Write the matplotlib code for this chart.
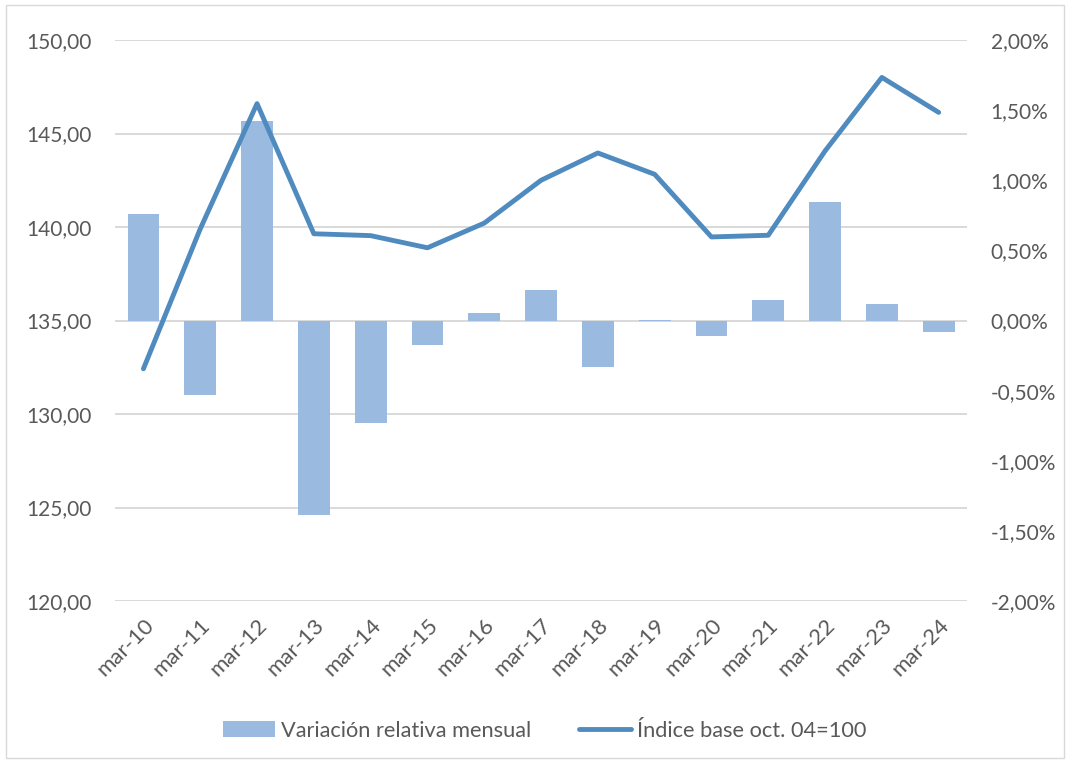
import matplotlib.pyplot as plt
from matplotlib.ticker import FuncFormatter, MultipleLocator
from matplotlib.patches import Rectangle

plt.rcParams['font.family'] = ['Lato', 'DejaVu Sans']

# data
labels = ['mar-10', 'mar-11', 'mar-12', 'mar-13', 'mar-14', 'mar-15', 'mar-16', 'mar-17',
          'mar-18', 'mar-19', 'mar-20', 'mar-21', 'mar-22', 'mar-23', 'mar-24']
variacion = [0.762, -0.531, 1.426, -1.39, -0.733, -0.176, 0.057, 0.219,
             -0.333, 0.005, -0.11, 0.145, 0.845, 0.121, -0.083]  # percent
indice = [132.42, 139.9, 146.6, 139.64, 139.54, 138.89, 140.21, 142.5,
          143.96, 142.82, 139.47, 139.56, 144.07, 148.0, 146.13]
left_ticks = [120, 125, 130, 135, 140, 145, 150]

text_col = '#595959'
bar_col = '#9bbae0'
line_col = '#4f8bbf'

fig = plt.figure(figsize=(10.68, 7.61), dpi=100)
ax = fig.add_axes([0.1077, 0.2102, 0.7978, 0.7372])
ax2 = ax.twinx()

x = list(range(len(labels)))

# gridlines follow the left axis ticks, drawn under the bars
for t in left_ticks:
    ax2.axhline((t - 135) / 30 * 0.04, color='#d9d9d9', lw=1.4, zorder=0)

# bars on the right (percent) axis
bars = ax2.bar(x, [v / 100 for v in variacion], width=0.56, color=bar_col,
               label='Variación relativa mensual', zorder=2)
ax2.set_ylim(-0.02, 0.02)
ax2.yaxis.set_major_locator(MultipleLocator(0.005))
ax2.yaxis.set_major_formatter(FuncFormatter(
    lambda v, p: f'{v * 100:.2f}%'.replace('.', ',')))

# line on the left (index) axis, drawn on top
line, = ax.plot(x, indice, color=line_col, lw=3.5, solid_capstyle='round',
                label='Índice base oct. 04=100')
ax.set_zorder(ax2.get_zorder() + 1)
ax.patch.set_visible(False)
ax.set_ylim(120, 150)
ax.set_yticks(left_ticks)
ax.yaxis.set_major_formatter(FuncFormatter(
    lambda v, p: f'{v:.2f}'.replace('.', ',')))
ax.set_xlim(-0.5, len(labels) - 0.5)
ax.set_xticks(x)
ax.set_xticklabels(labels, rotation=45, ha='right', rotation_mode='anchor')

for a in (ax, ax2):
    for s in a.spines.values():
        s.set_visible(False)
    a.tick_params(length=0, labelsize=15, colors=text_col)
ax.tick_params(axis='y', pad=17)
ax2.tick_params(axis='y', pad=17)
ax.tick_params(axis='x', labelsize=16, pad=10)

fig.legend(handles=[bars, line], loc='center', bbox_to_anchor=(0.51, 0.04),
           ncol=2, frameon=False, fontsize=15.7, labelcolor=text_col,
           handlelength=2.4, handleheight=0.8, handletextpad=0.25,
           columnspacing=2.2)

# light chart-area border
fig.patches.append(Rectangle((0.006, 0.004), 0.99, 0.99, transform=fig.transFigure,
                             fill=False, edgecolor='#d9d9d9', lw=1))

fig.savefig('out.png', dpi=100)
